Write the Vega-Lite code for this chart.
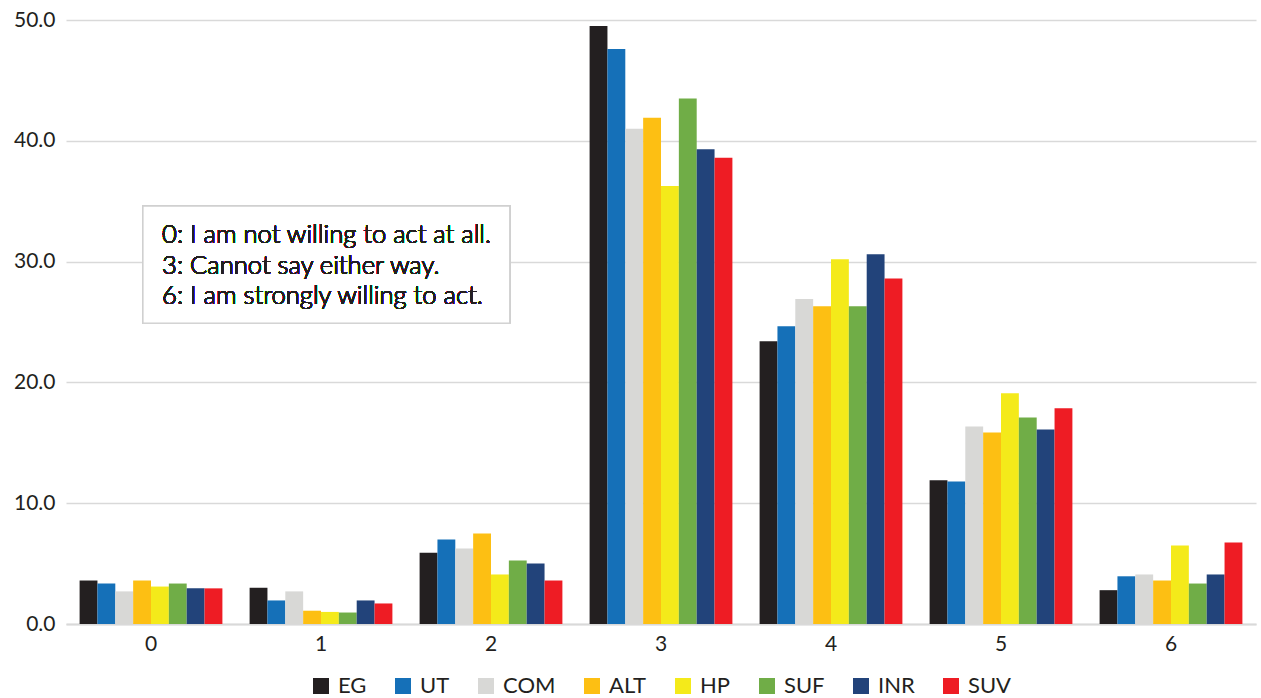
{
  "$schema": "https://vega.github.io/schema/vega-lite/v6.json",
  "width": 1190,
  "height": 604,
  "autosize": {"type": "none"},
  "padding": {"left": 66, "top": 20, "right": 5, "bottom": 74},
  "background": "white",
  "config": {
    "font": "Lato",
    "view": {"stroke": null},
    "axis": {"labelFont": "Lato", "labelColor": "#231f20"},
    "legend": {"labelFont": "Lato", "labelColor": "#231f20"},
    "text": {"font": "Lato", "fontSize": 25.6, "fontWeight": 300, "align": "left", "baseline": "alphabetic", "fill": "#231f20"}
  },
  "data": {
    "values": [
      {"score": "0", "group": "EG", "pct": 3.6},
      {"score": "0", "group": "UT", "pct": 3.35},
      {"score": "0", "group": "COM", "pct": 2.7},
      {"score": "0", "group": "ALT", "pct": 3.6},
      {"score": "0", "group": "HP", "pct": 3.1},
      {"score": "0", "group": "SUF", "pct": 3.35},
      {"score": "0", "group": "INR", "pct": 2.95},
      {"score": "0", "group": "SUV", "pct": 2.95},
      {"score": "1", "group": "EG", "pct": 3.0},
      {"score": "1", "group": "UT", "pct": 1.95},
      {"score": "1", "group": "COM", "pct": 2.7},
      {"score": "1", "group": "ALT", "pct": 1.1},
      {"score": "1", "group": "HP", "pct": 1.0},
      {"score": "1", "group": "SUF", "pct": 0.95},
      {"score": "1", "group": "INR", "pct": 1.95},
      {"score": "1", "group": "SUV", "pct": 1.7},
      {"score": "2", "group": "EG", "pct": 5.9},
      {"score": "2", "group": "UT", "pct": 7.0},
      {"score": "2", "group": "COM", "pct": 6.25},
      {"score": "2", "group": "ALT", "pct": 7.5},
      {"score": "2", "group": "HP", "pct": 4.1},
      {"score": "2", "group": "SUF", "pct": 5.25},
      {"score": "2", "group": "INR", "pct": 5.0},
      {"score": "2", "group": "SUV", "pct": 3.6},
      {"score": "3", "group": "EG", "pct": 49.5},
      {"score": "3", "group": "UT", "pct": 47.6},
      {"score": "3", "group": "COM", "pct": 41.0},
      {"score": "3", "group": "ALT", "pct": 41.9},
      {"score": "3", "group": "HP", "pct": 36.25},
      {"score": "3", "group": "SUF", "pct": 43.5},
      {"score": "3", "group": "INR", "pct": 39.3},
      {"score": "3", "group": "SUV", "pct": 38.6},
      {"score": "4", "group": "EG", "pct": 23.4},
      {"score": "4", "group": "UT", "pct": 24.65},
      {"score": "4", "group": "COM", "pct": 26.9},
      {"score": "4", "group": "ALT", "pct": 26.3},
      {"score": "4", "group": "HP", "pct": 30.2},
      {"score": "4", "group": "SUF", "pct": 26.3},
      {"score": "4", "group": "INR", "pct": 30.6},
      {"score": "4", "group": "SUV", "pct": 28.6},
      {"score": "5", "group": "EG", "pct": 11.9},
      {"score": "5", "group": "UT", "pct": 11.8},
      {"score": "5", "group": "COM", "pct": 16.35},
      {"score": "5", "group": "ALT", "pct": 15.85},
      {"score": "5", "group": "HP", "pct": 19.1},
      {"score": "5", "group": "SUF", "pct": 17.1},
      {"score": "5", "group": "INR", "pct": 16.1},
      {"score": "5", "group": "SUV", "pct": 17.85},
      {"score": "6", "group": "EG", "pct": 2.8},
      {"score": "6", "group": "UT", "pct": 3.95},
      {"score": "6", "group": "COM", "pct": 4.1},
      {"score": "6", "group": "ALT", "pct": 3.6},
      {"score": "6", "group": "HP", "pct": 6.5},
      {"score": "6", "group": "SUF", "pct": 3.35},
      {"score": "6", "group": "INR", "pct": 4.1},
      {"score": "6", "group": "SUV", "pct": 6.75}
    ]
  },
  "layer": [
    {
      "mark": {"type": "bar"},
      "encoding": {
        "x": {
          "field": "score",
          "type": "nominal",
          "sort": ["0", "1", "2", "3", "4", "5", "6"],
          "scale": {"paddingInner": 0.16, "paddingOuter": 0.08},
          "axis": {
            "title": null,
            "labelAngle": 0,
            "labelFontSize": 21,
            "labelPadding": 9,
            "ticks": false,
            "domainColor": "#d9d9d9",
            "domainWidth": 2
          }
        },
        "xOffset": {
          "field": "group",
          "sort": ["EG", "UT", "COM", "ALT", "HP", "SUF", "INR", "SUV"]
        },
        "y": {
          "field": "pct",
          "type": "quantitative",
          "scale": {"domain": [0, 50], "nice": false},
          "axis": {
            "title": null,
            "values": [0, 10, 20, 30, 40, 50],
            "format": ".1f",
            "labelFontSize": 21,
            "labelPadding": 11,
            "ticks": false,
            "domain": false,
            "gridColor": "#d9d9d9",
            "gridWidth": 1.3
          }
        },
        "color": {
          "field": "group",
          "type": "nominal",
          "scale": {
            "domain": ["EG", "UT", "COM", "ALT", "HP", "SUF", "INR", "SUV"],
            "range": ["#231f20", "#1570b8", "#d8d8d6", "#fdbf13", "#f4ea1a", "#70ad47", "#22437a", "#ee1c24"]
          },
          "legend": {
            "title": null,
            "orient": "none",
            "legendX": 244,
            "legendY": 655,
            "direction": "horizontal",
            "columns": 8,
            "symbolType": "square",
            "symbolSize": 256,
            "symbolStrokeWidth": 0,
            "labelFontSize": 22,
            "labelOffset": 6,
            "columnPadding": 25
          }
        }
      }
    },
    {
      "mark": {"type": "rect", "fill": "white", "stroke": "#d0d0d0", "strokeWidth": 1.2},
      "encoding": {
        "x": {"datum": 0.453, "type": "quantitative", "scale": {"domain": [0, 7], "nice": false}, "axis": null},
        "x2": {"datum": 2.61},
        "y": {"datum": 34.6, "type": "quantitative"},
        "y2": {"datum": 24.9}
      }
    },
    {
      "mark": {"type": "text"},
      "encoding": {
        "x": {"datum": 0.565, "type": "quantitative", "scale": {"domain": [0, 7], "nice": false}, "axis": null},
        "y": {"datum": 31.52, "type": "quantitative"},
        "text": {"value": "0: I am not willing to act at all."}
      }
    },
    {
      "mark": {"type": "text"},
      "encoding": {
        "x": {"datum": 0.565, "type": "quantitative", "scale": {"domain": [0, 7], "nice": false}, "axis": null},
        "y": {"datum": 29.0, "type": "quantitative"},
        "text": {"value": "3: Cannot say either way."}
      }
    },
    {
      "mark": {"type": "text"},
      "encoding": {
        "x": {"datum": 0.565, "type": "quantitative", "scale": {"domain": [0, 7], "nice": false}, "axis": null},
        "y": {"datum": 26.47, "type": "quantitative"},
        "text": {"value": "6: I am strongly willing to act."}
      }
    }
  ],
  "resolve": {"scale": {"x": "independent"}}
}
